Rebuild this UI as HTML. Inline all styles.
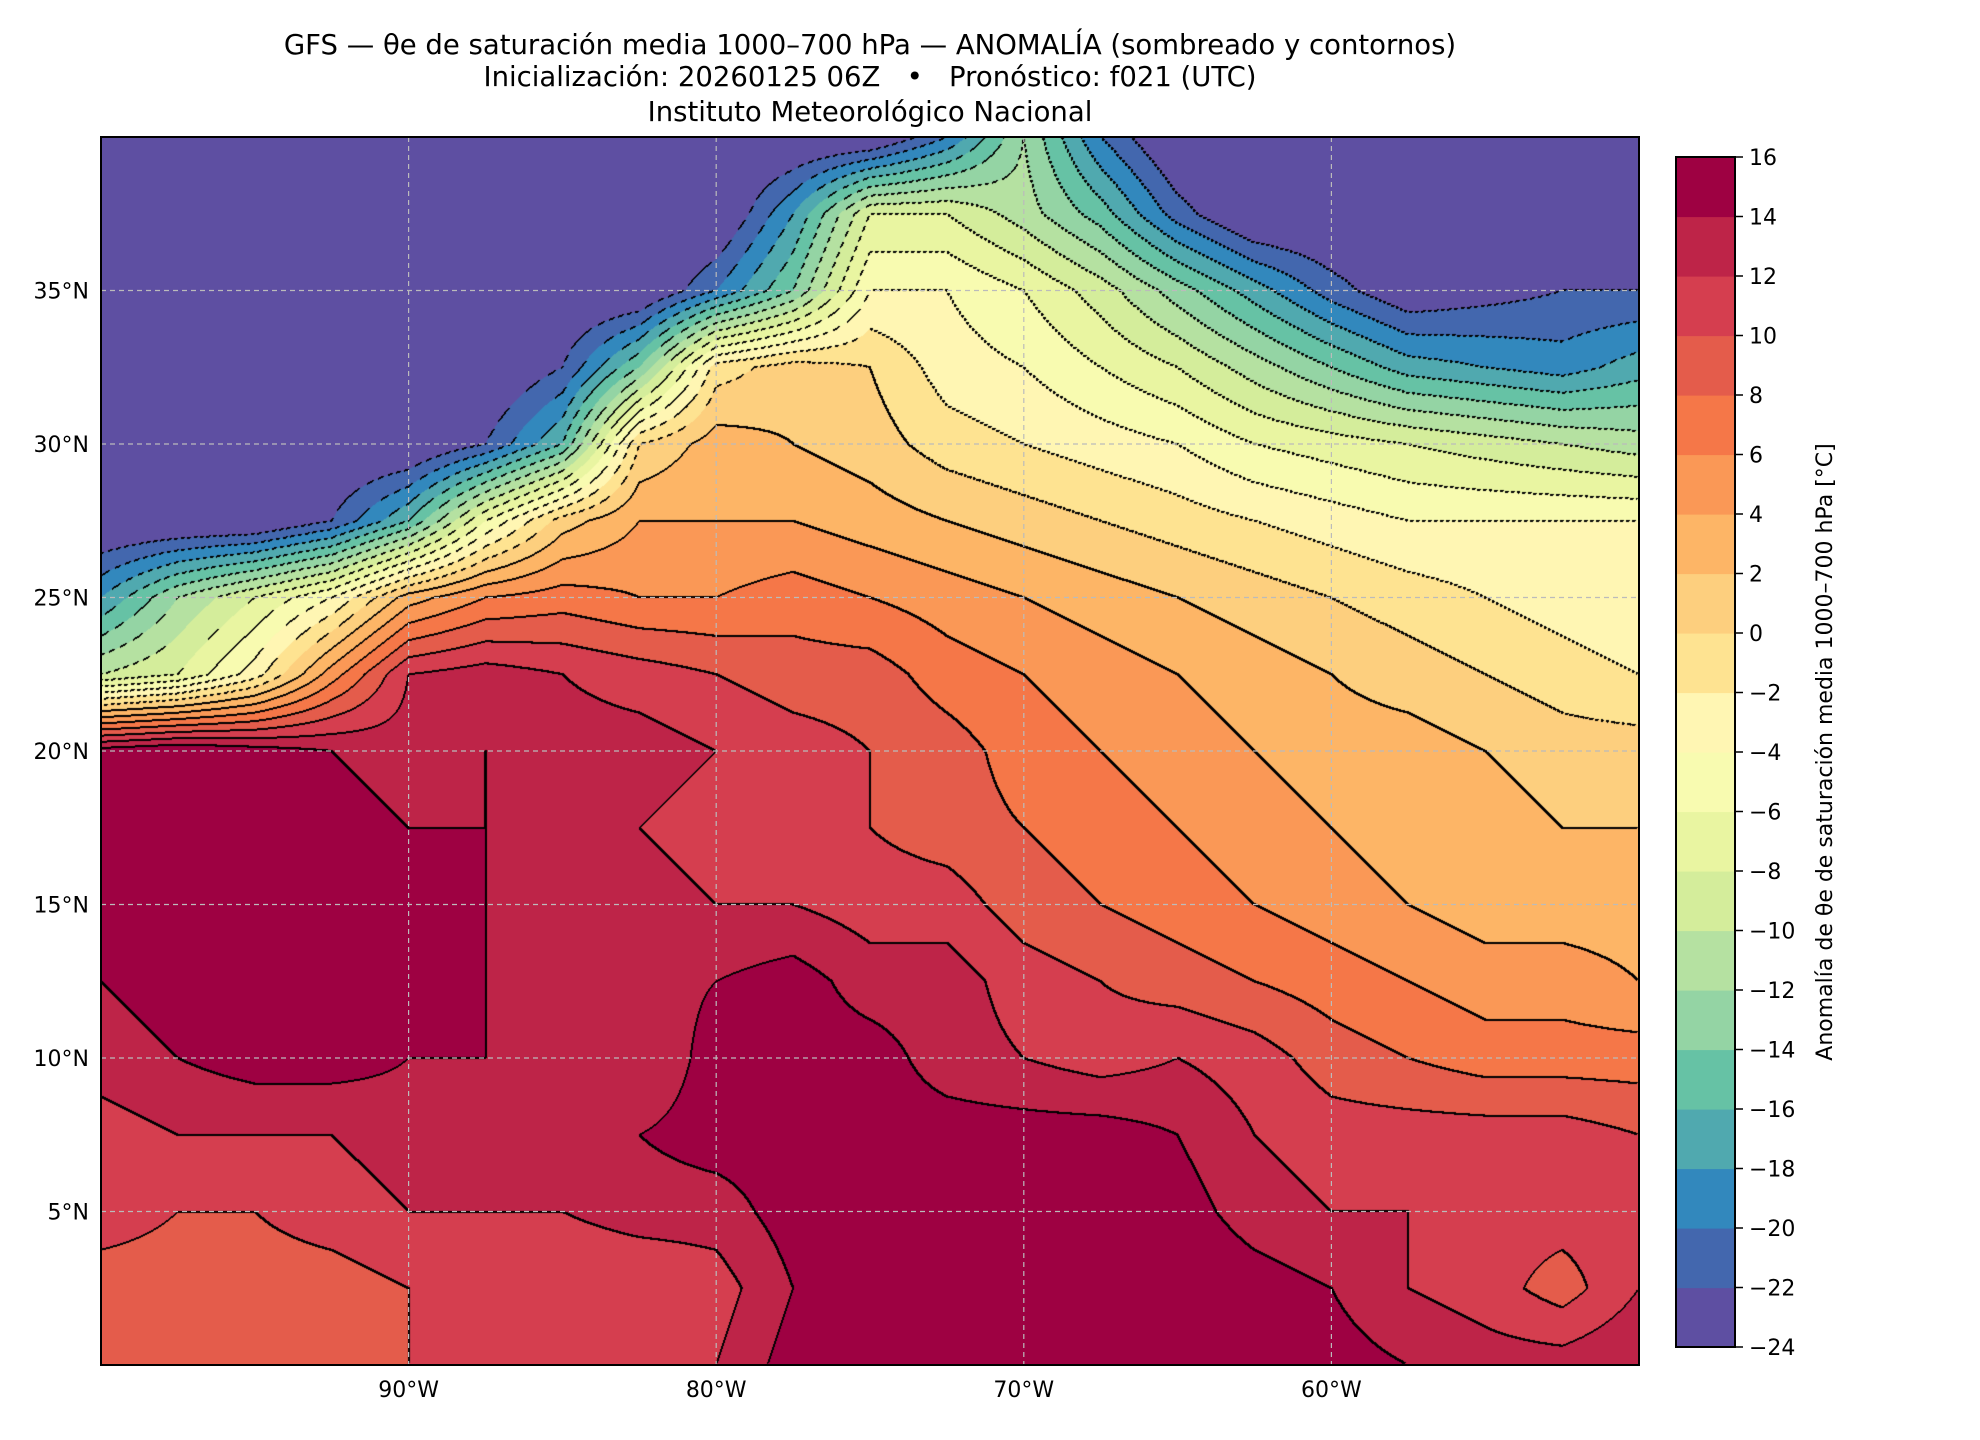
<!DOCTYPE html>
<html>
<head>
<meta charset="utf-8">
<style>
  html,body{margin:0;padding:0;background:#fff;}
  #wrap{position:relative;width:1980px;height:1440px;overflow:hidden;background:#fff;font-family:"DejaVu Sans","Liberation Sans",sans-serif;}
  .title{position:absolute;left:0;width:1740px;text-align:center;font-size:27.5px;color:#000;white-space:nowrap;}
  #map{position:absolute;left:101px;top:137px;}
  svg{position:absolute;left:0;top:0;}
</style>
</head>
<body>
<div id="wrap">
  <div class="title" style="top:29px">GFS — θe de saturación media 1000–700 hPa — ANOMALÍA (sombreado y contornos)</div>
  <div class="title" style="top:61px">Inicialización: 20260125 06Z &nbsp; • &nbsp; Pronóstico: f021 (UTC)</div>
  <div class="title" style="top:96px">Instituto Meteorológico Nacional</div>
  <canvas id="map" width="1538" height="1228"></canvas>
  <svg id="overlay" width="1980" height="1440"></svg>
</div>
<script>
// ---- data: grid longitudes / latitudes (degrees) ----
const lons = [-100,-97.5,-95,-92.5,-90,-87.5,-85,-82.5,-80,-77.5,-75,-72.5,-70,-67.5,-65,-62.5,-60,-57.5,-55,-52.5,-50];
const lats = [40,37.5,35,32.5,30,27.5,25,22.5,20,17.5,15,12.5,10,7.5,5,2.5,0];
// anomaly values (°C) read per latitude row, west to east
const anom40  = [-25,-25,-25,-25,-25,-25,-25,-25,-25,-25,-25,-20,-12,-20,-25,-25,-25,-25,-25,-25,-25];
const anom375 = [-25,-25,-25,-25,-25,-25,-25,-25,-25,-18,-8,-8,-11,-15,-21,-25,-25,-25,-25,-25,-25];
const anom35  = [-25,-25,-25,-25,-25,-25,-25,-25,-20,-14,-4,-4,-6,-9,-13,-17,-21,-24,-23,-22,-22];
const anom325 = [-25,-25,-25,-25,-25,-25,-22,-14,-1,1,0,-3,-4,-6,-8,-11,-14,-17,-18,-19,-17];
const anom30  = [-25,-25,-25,-25,-25,-22,-16,0,3,2,1,-1,-2,-3,-4,-6,-7,-8,-9,-10,-11];
const anom275 = [-25,-25,-25,-22,-16,-6,1,4,4,4,3,2,1,0,-1,-2,-3,-4,-4,-4,-4];
const anom25  = [-18,-12,-8,-4,3,6,7,6,6,7,6,5,4,3,2,1,0,-1,-2,-3,-4];
const anom225 = [-10,-8,-3,5,12,13,12,11,10,9,9,7,6,5,4,3,2,1,0,-1,-2];
const anom20  = [15,16,15,14,13,14,13,13,12,11,10,9,7,6,5,4,3,3,2,1,1];
const anom175 = [16,15,15,15,14,14,13,12,11,11,10,9,8,7,6,5,4,3,3,2,2];
const anom15  = [15,15,15,15,15,14,13,13,12,12,11,11,9,8,7,6,5,4,3,3,3];
const anom125 = [14,15,15,15,15,14,13,13,14,15,13,13,11,10,9,8,7,6,5,5,4];
const anom10  = [13,14,15,15,14,14,13,12,15,15,15,13,12,11,12,11,9,8,7,7,7];
const anom75  = [11,12,12,12,13,13,13,14,15,15,15,15,15,15,14,12,11,11,11,11,10];
const anom5   = [11,10,10,11,12,12,12,13,13,15,15,15,16,16,15,13,12,12,11,11,11];
const anom25s = [9,9,9,9,10,11,10,10,11,14,15,16,16,16,16,15,14,12,11,9,12];
const anom0   = [8,9,9,10,10,11,10,10,12,15,16,16,16,16,16,15,15,14,13,13,14];
const grid = [anom40,anom375,anom35,anom325,anom30,anom275,anom25,anom225,anom20,anom175,anom15,anom125,anom10,anom75,anom5,anom25s,anom0];
// colorbar levels and tick labels
const levels = [-24,-22,-20,-18,-16,-14,-12,-10,-8,-6,-4,-2,0,2,4,6,8,10,12,14,16];
const levelColors = ["#5e4fa2","#4367ae","#3288bd","#50a9af","#66c2a5","#94d4a4","#b5e1a1","#d4ed9b","#e9f5a1","#f8fbb0","#fff6b3","#fee391","#fdcf7e","#fdb566","#fa9856","#f57748","#e45c4b","#d53e4f","#be2448","#9e0142"];
const lonTicks = [-90,-80,-70,-60];
const lonTickLabels = ["90°W","80°W","70°W","60°W"];
const latTicks = [35,30,25,20,15,10,5];
const latTickLabels = ["35°N","30°N","25°N","20°N","15°N","10°N","5°N"];

// ---- geometry ----
const MX=101, MY=137, MW=1538, MH=1228;
const LON0=-100, LON1=-50, LAT0=0, LAT1=40;
function xOf(lon){return MX+(lon-LON0)/(LON1-LON0)*MW;}
function yOf(lat){return MY+(LAT1-lat)/(LAT1-LAT0)*MH;}
function hex(c){return [parseInt(c.slice(1,3),16),parseInt(c.slice(3,5),16),parseInt(c.slice(5,7),16)];}
const rgb = levelColors.map(hex);

function valueAt(lon,lat){
  let fi=(lon-lons[0])/(lons[1]-lons[0]);
  let fj=(lats[0]-lat)/(lats[0]-lats[1]);
  fi=Math.max(0,Math.min(lons.length-1.0001,fi));
  fj=Math.max(0,Math.min(lats.length-1.0001,fj));
  const i=Math.floor(fi), j=Math.floor(fj), a=fi-i, b=fj-j;
  const v00=grid[j][i], v10=grid[j][i+1], v01=grid[j+1][i], v11=grid[j+1][i+1];
  return (v00*(1-a)+v10*a)*(1-b)+(v01*(1-a)+v11*a)*b;
}
function levelIdx(v){
  let k=Math.floor((v-levels[0])/2);
  return Math.max(0,Math.min(levelColors.length-1,k));
}

// ---- draw field ----
(function(){
  const cv=document.getElementById('map');
  const ctx=cv.getContext('2d');
  const img=ctx.createImageData(MW,MH);
  const idx=new Int16Array(MW*MH);
  const raw=new Float32Array(MW*MH);
  for(let y=0;y<MH;y++){
    const lat=LAT1-(y+0.5)/MH*(LAT1-LAT0);
    for(let x=0;x<MW;x++){
      const lon=LON0+(x+0.5)/MW*(LON1-LON0);
      const v=valueAt(lon,lat);
      raw[y*MW+x]=v;
      idx[y*MW+x]=levelIdx(v);
    }
  }
  for(let p=0;p<MW*MH;p++){
    const c=rgb[idx[p]], o=p*4;
    img.data[o]=c[0];img.data[o+1]=c[1];img.data[o+2]=c[2];img.data[o+3]=255;
  }
  // contour lines every 2 degrees
  for(let y=0;y<MH-2;y++){
    for(let x=0;x<MW-2;x++){
      const p=y*MW+x;
      const k=idx[p];
      if(raw[p]<-23.9 && raw[p+1]<-23.9 && raw[p+MW]<-23.9) continue;
      if(k!==idx[p+1]||k!==idx[p+MW]){
        const neg=raw[p]<0;
        if(neg && ((x+y)%6)>2) continue;
        for(const q of [p,p+1,p+MW]){
          const o=q*4; img.data[o]=0;img.data[o+1]=0;img.data[o+2]=0;
        }
      }
    }
  }
  ctx.putImageData(img,0,0);
})();

// ---- overlay: grid, frame, ticks, colorbar ----
(function(){
  const svg=document.getElementById('overlay');
  const NS="http://www.w3.org/2000/svg";
  function mk(tag,attrs){const e=document.createElementNS(NS,tag);for(const k in attrs)e.setAttribute(k,attrs[k]);svg.appendChild(e);return e;}
  lonTicks.forEach((lon,i)=>{
    const x=xOf(lon);
    const g=mk('line',{x1:x,y1:MY,x2:x,y2:MY+MH,stroke:'#bbbbbb','stroke-width':1.2,'stroke-dasharray':'5,4'});
    
    
    const t=mk('text',{x:x,y:MY+MH+32,'text-anchor':'middle','font-size':22,'font-family':'DejaVu Sans, Liberation Sans, sans-serif',fill:'#000'});
    t.textContent=lonTickLabels[i];
    
    
  });
  latTicks.forEach((lat,i)=>{
    const y=yOf(lat);
    const g=mk('line',{x1:MX,y1:y,x2:MX+MW,y2:y,stroke:'#bbbbbb','stroke-width':1.2,'stroke-dasharray':'5,4'});
    
    
    const t=mk('text',{x:MX-12,y:y+8,'text-anchor':'end','font-size':22,'font-family':'DejaVu Sans, Liberation Sans, sans-serif',fill:'#000'});
    t.textContent=latTickLabels[i];
    
    
  });
  const fr=mk('rect',{x:MX,y:MY,width:MW,height:MH,fill:'none',stroke:'#000','stroke-width':2});
  
  

  // colorbar
  const CX=1676, CW=59, CT=157, CB=1347;
  const ch=(CB-CT)/levelColors.length;
  levelColors.forEach((c,i)=>{
    const r=mk('rect',{x:CX,y:CB-(i+1)*ch,width:CW,height:ch+0.6,fill:c});
    
    
  });
  const cf=mk('rect',{x:CX,y:CT,width:CW,height:CB-CT,fill:'none',stroke:'#000','stroke-width':2});
  
  
  levels.forEach((lv,i)=>{
    const y=CB-i*ch;
    const tk=mk('line',{x1:CX+CW,y1:y,x2:CX+CW+8,y2:y,stroke:'#000','stroke-width':1.5});
    
    
    const t=mk('text',{x:CX+CW+14,y:y+8,'text-anchor':'start','font-size':22,'font-family':'DejaVu Sans, Liberation Sans, sans-serif',fill:'#000'});
    t.textContent=(lv<0?'−'+Math.abs(lv):String(lv));
    
    
  });
  const lbl=mk('text',{x:0,y:0,'text-anchor':'middle','font-size':22,'font-family':'DejaVu Sans, Liberation Sans, sans-serif',fill:'#000',transform:'translate(1832,'+((CT+CB)/2)+') rotate(-90)'});
  lbl.textContent='Anomalía de θe de saturación media 1000–700 hPa [°C]';
  
  
})();
</script>
</body>
</html>
